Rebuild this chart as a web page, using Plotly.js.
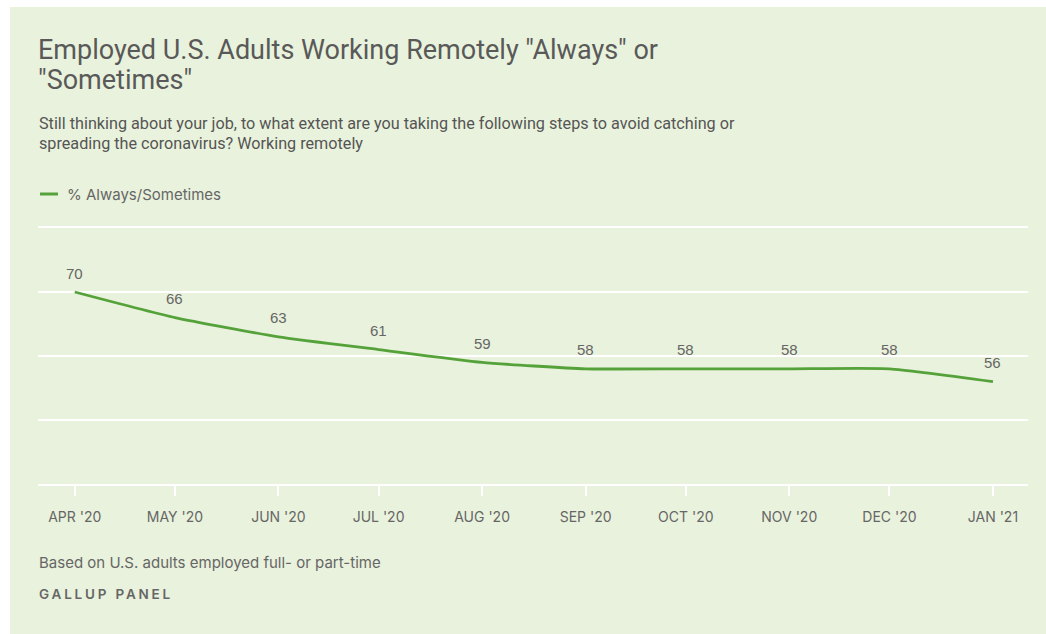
<!DOCTYPE html>
<html>
<head>
<meta charset="utf-8">
<script src="https://cdn.plot.ly/plotly-3.0.1.min.js"></script>
<style>
  html, body { margin: 0; padding: 0; background: #ffffff; width: 1046px; height: 634px; overflow: hidden; }
  #chart { position: absolute; left: 10px; top: 7px; width: 1036px; height: 627px; }
</style>
</head>
<body>
<div id="chart"></div>
<script>
// ---- Data ----
const months = ['2020-04-01','2020-05-01','2020-06-01','2020-07-01','2020-08-01',
                '2020-09-01','2020-10-01','2020-11-01','2020-12-01','2021-01-01'];
const tickLabels = ["APR '20","MAY '20","JUN '20","JUL '20","AUG '20",
                    "SEP '20","OCT '20","NOV '20","DEC '20","JAN '21"];
const pctAlwaysSometimes = [70, 66, 63, 61, 59, 58, 58, 58, 58, 56];
const seriesName = '% Always/Sometimes';
const titleLines = ['Employed U.S. Adults Working Remotely "Always" or', '"Sometimes"'];
const subtitleLines = ['Still thinking about your job, to what extent are you taking the following steps to avoid catching or',
                       'spreading the coronavirus? Working remotely'];
const footnote = 'Based on U.S. adults employed full- or part-time';
const source = 'GALLUP PANEL';

// ---- Layout helpers (image pixel -> paper coords) ----
const DIV_L = 10, DIV_T = 7, M_L = 28, M_T = 221, PW = 990, PH = 256;
const px = x => (x - DIV_L - M_L) / PW;
const py = y => 1 - (y - DIV_T - M_T) / PH;

const GREEN = '#55a23a';
const TXT = '#666666';
const BG = '#e9f2dc';
const titleFont = {family: 'Roboto, "Liberation Sans", Arial, sans-serif', size: 27, color: '#595959'};
const subFont = {family: 'Roboto, "Liberation Sans", Arial, sans-serif', size: 16.2, color: '#555555'};
const bodyFam = 'Inter, "Open Sans", "Liberation Sans", Arial, sans-serif';
const bodyFont = {family: bodyFam, size: 15, color: TXT};

const trace = {
  x: months, y: pctAlwaysSometimes, name: seriesName,
  type: 'scatter', mode: 'lines',
  line: {color: GREEN, width: 2.8, shape: 'spline', smoothing: 0.5},
  hoverinfo: 'x+y', showlegend: false
};

const annotations = [];
function textAnn(text, x, y, font, extra) {
  annotations.push(Object.assign({text: text, xref: 'paper', yref: 'paper', x: px(x), y: py(y),
    xanchor: 'left', yanchor: 'middle', showarrow: false, font: font, align: 'left'}, extra || {}));
}
textAnn(titleLines[0], 36, 50, titleFont);
textAnn(titleLines[1], 36, 80, titleFont);
textAnn(subtitleLines[0], 37, 123, subFont);
textAnn(subtitleLines[1], 37, 143, subFont);
textAnn(seriesName, 65, 194, bodyFont);
textAnn(footnote, 37, 562, bodyFont);
textAnn(source, 37, 594, Object.assign({}, bodyFont, {size: 13.5, weight: 600}));

// data labels, positioned through the axes
pctAlwaysSometimes.forEach((v, i) => {
  annotations.push({x: months[i], y: v, xref: 'x', yref: 'y', text: String(v), showarrow: false,
    yshift: 19, xanchor: 'center', yanchor: 'middle', font: {family: '"Liberation Sans", Arial, sans-serif', size: 15, color: TXT}});
});

const layout = {
  width: 1036, height: 627,
  paper_bgcolor: BG, plot_bgcolor: BG,
  margin: {l: M_L, r: 18, t: M_T, b: 150, pad: 0},
  xaxis: {
    type: 'date', range: ['2020-03-21', '2021-01-11 12:00'],
    tickvals: months, ticktext: tickLabels, tickmode: 'array',
    showgrid: false, zeroline: false,
    showline: true, mirror: true, linecolor: '#ffffff', linewidth: 2,
    ticks: 'outside', ticklen: 10, tickwidth: 2, tickcolor: '#ffffff',
    tickfont: {family: bodyFam, size: 14, color: TXT},
    ticklabelstandoff: 9, fixedrange: true
  },
  yaxis: {
    range: [40, 80], dtick: 10, tick0: 40,
    showgrid: true, gridcolor: '#ffffff', gridwidth: 2,
    showticklabels: false, zeroline: false, showline: false, ticks: '', fixedrange: true
  },
  shapes: [{type: 'line', xref: 'paper', yref: 'paper', x0: px(40), x1: px(58), y0: py(194), y1: py(194),
            line: {color: GREEN, width: 3}}],
  annotations: annotations,
  showlegend: false
};

Plotly.newPlot('chart', [trace], layout, {displayModeBar: false, staticPlot: true}).then(() => {
  document.querySelectorAll('#chart .annotation-text').forEach(el => {
    if (el.textContent === source) el.style.letterSpacing = '2.8px';
  });
});
</script>
</body>
</html>
